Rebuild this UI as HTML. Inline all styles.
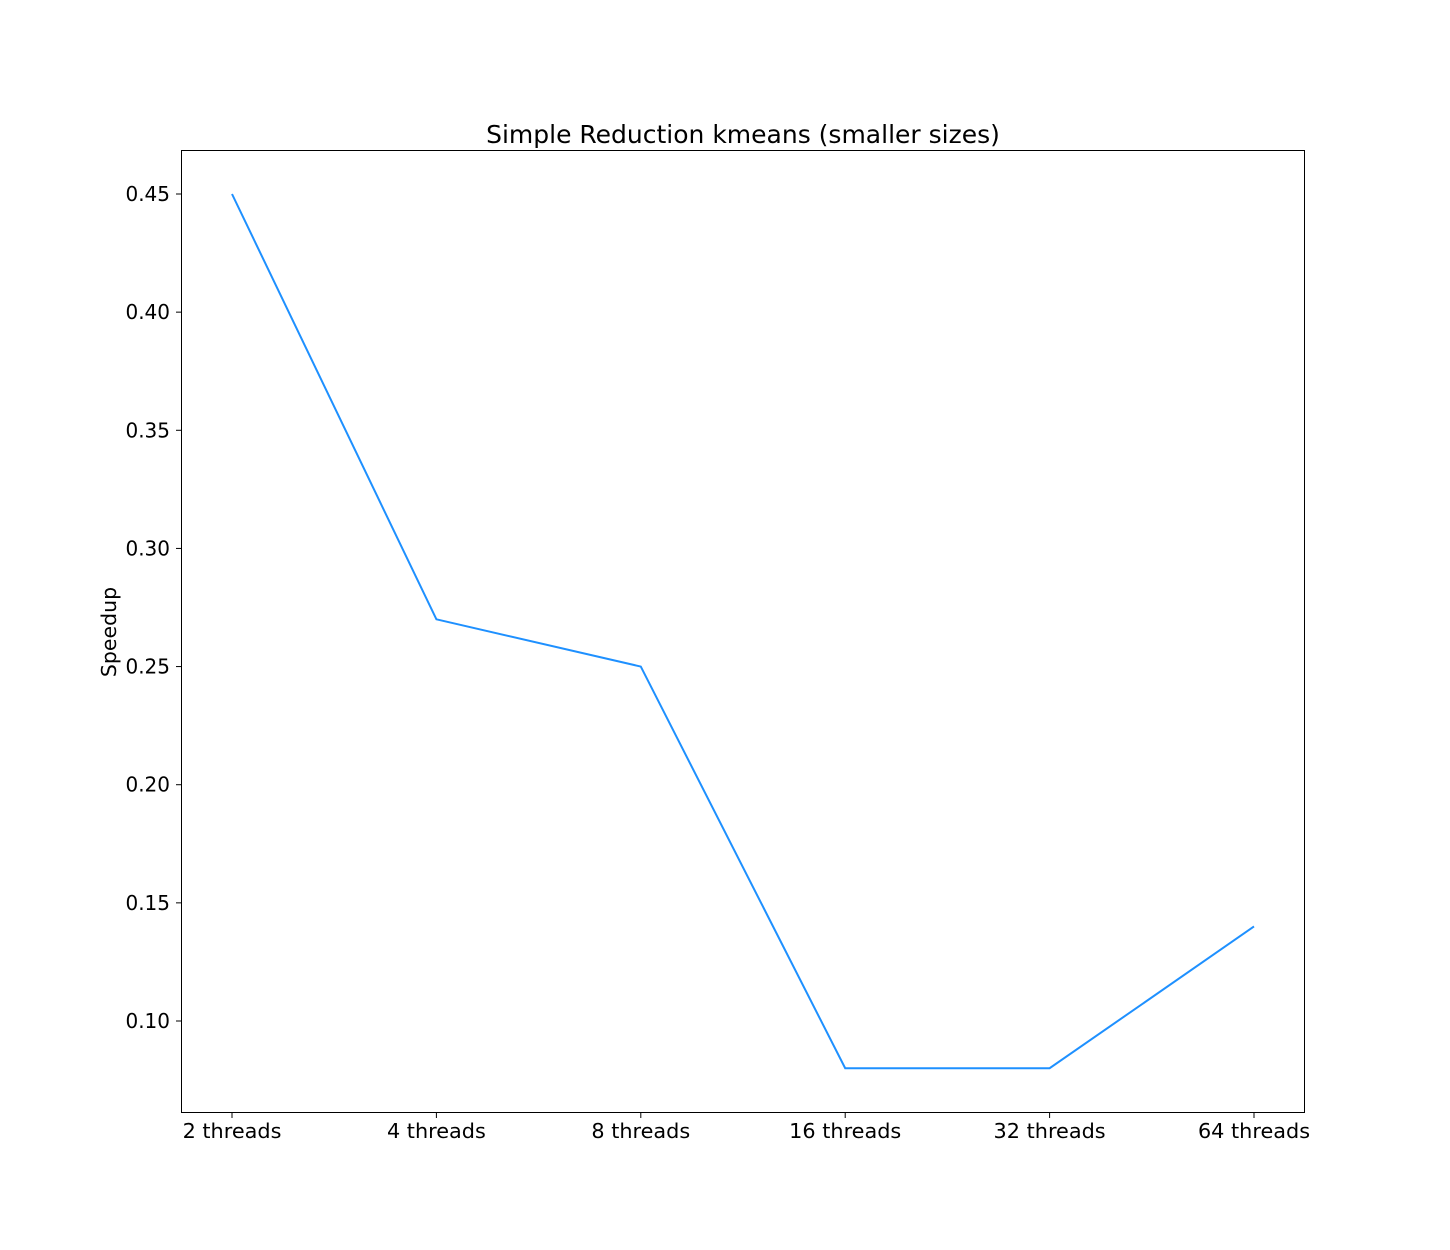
<!DOCTYPE html>
<html><head><meta charset="utf-8"><style>
html,body{margin:0;padding:0;background:#fff;}
svg{display:block;font-family:"DejaVu Sans","Liberation Sans",sans-serif;}
</style></head><body>
<svg id="chart" width="1450" height="1250" viewBox="0 0 1450 1250" xmlns="http://www.w3.org/2000/svg">
<rect width="1450" height="1250" fill="#fff"/>
<text x="743" y="143" font-size="25" text-anchor="middle" fill="#000">Simple Reduction kmeans (smaller sizes)</text>
<text transform="translate(116,632) rotate(-90)" font-size="20.5" text-anchor="middle" fill="#000">Speedup</text>
<g id="ticks"></g>
<g id="series"></g>
<rect x="181.5" y="150.5" width="1123" height="962" fill="none" stroke="#000" stroke-width="1"/>
</svg>
<script>
const categories = ["2 threads","4 threads","8 threads","16 threads","32 threads","64 threads"];
const speedup = [0.45, 0.27, 0.25, 0.08, 0.08, 0.14];
const yTicks = [0.10, 0.15, 0.20, 0.25, 0.30, 0.35, 0.40, 0.45];

const NS = "http://www.w3.org/2000/svg";
const L = 181, R = 1305, T = 150, B = 1113;
const x0 = 232, x1 = 1254;
function xScale(i){ return x0 + (x1 - x0) * i / (categories.length - 1); }
const v0 = 0.10, p0 = 1021, v1 = 0.45, p1 = 194;
function yScale(v){ return p0 + (v - v0) * (p1 - p0) / (v1 - v0); }

const ticks = document.getElementById('ticks');
yTicks.forEach(v => {
  const y = yScale(v);
  const ln = document.createElementNS(NS, 'line');
  ln.setAttribute('x1', L - 5); ln.setAttribute('x2', L); ln.setAttribute('y1', y); ln.setAttribute('y2', y);
  ln.setAttribute('stroke', '#000');
  
  
  ticks.appendChild(ln);
  const t = document.createElementNS(NS, 'text');
  t.setAttribute('x', L - 11); t.setAttribute('y', y + 7);
  t.setAttribute('font-size', '20'); t.setAttribute('text-anchor', 'end');
  t.textContent = v.toFixed(2);
  
  
  ticks.appendChild(t);
});
categories.forEach((c, i) => {
  const x = xScale(i);
  const ln = document.createElementNS(NS, 'line');
  ln.setAttribute('x1', x); ln.setAttribute('x2', x); ln.setAttribute('y1', B); ln.setAttribute('y2', B + 5);
  ln.setAttribute('stroke', '#000');
  
  
  ticks.appendChild(ln);
  const t = document.createElementNS(NS, 'text');
  t.setAttribute('x', x); t.setAttribute('y', B + 25);
  t.setAttribute('font-size', '20.8'); t.setAttribute('text-anchor', 'middle');
  t.textContent = c;
  
  
  ticks.appendChild(t);
});
const pl = document.createElementNS(NS, 'polyline');
pl.setAttribute('points', speedup.map((v, i) => xScale(i) + ',' + yScale(v)).join(' '));
pl.setAttribute('fill', 'none'); pl.setAttribute('stroke', '#1e90ff'); pl.setAttribute('stroke-width', '2');


document.getElementById('series').appendChild(pl);
</script>
</body></html>
